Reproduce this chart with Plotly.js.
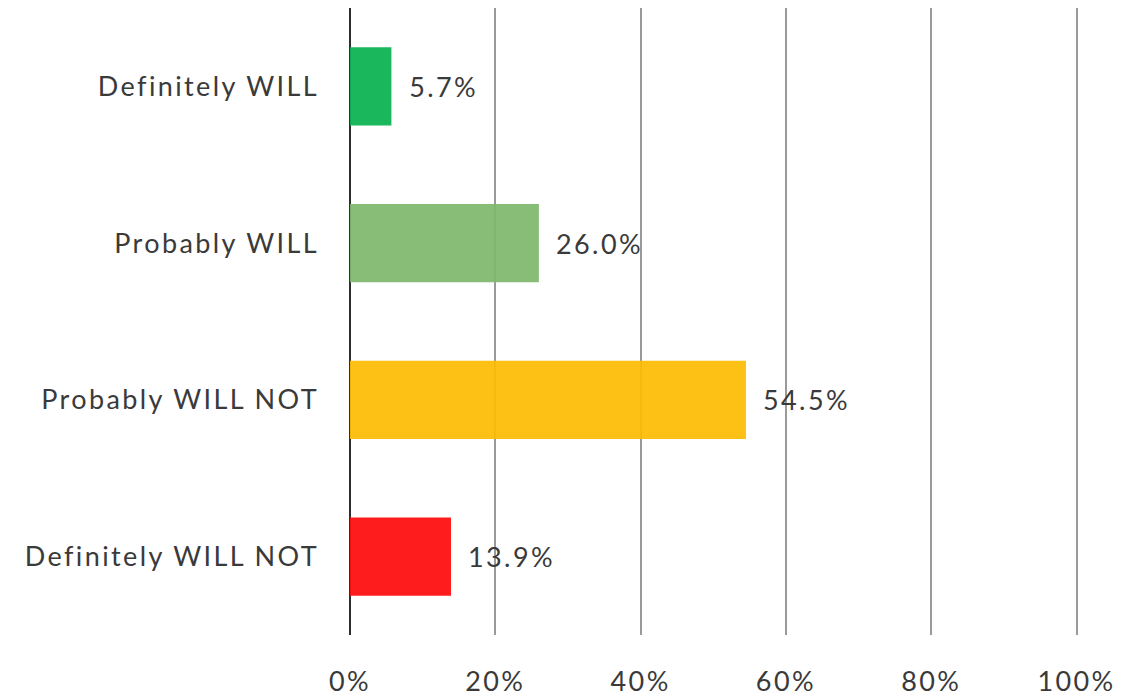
<!DOCTYPE html>
<html><head><meta charset="utf-8">
<script src="https://cdn.plot.ly/plotly-3.0.1.min.js"></script>
<style>
html,body{margin:0;padding:0;background:#fff}
#chart .ytick text, #chart .xtick text, #chart .annotation-text {letter-spacing: 2.4px;}
</style>
</head><body><div id="chart" style="width:1123px;height:698px"></div>
<script>
const categories = ["Definitely WILL", "Probably WILL", "Probably WILL NOT", "Definitely WILL NOT"];
const values = [5.7, 26.0, 54.5, 13.9];
const colors = ["#0ab150", "#7fb86e", "#fdbc04", "#fe0b0b"];
const tickValues = [0, 20, 40, 60, 80, 100];
const tickLabels = ["0%", "20%", "40%", "60%", "80%", "100%"];

const font = {family: "Lato, 'Open Sans', sans-serif", color: "#3a3a3a"};
const trace = {
  type: "bar", orientation: "h",
  y: categories, x: values,
  marker: {color: colors, opacity: 0.93},
  width: 0.5, hoverinfo: "none"
};
const annotations = categories.map((c, i) => ({
  x: values[i], y: c, xref: "x", yref: "y",
  text: values[i].toFixed(1) + "%", showarrow: false,
  xanchor: "left", yanchor: "middle", xshift: 21,
  font: Object.assign({}, font, {size: 27})
}));
const layout = {
  width: 1123, height: 698,
  margin: {l: 350, r: 44.5, t: 7.5, b: 62.5, pad: 0},
  paper_bgcolor: "#fff", plot_bgcolor: "#fff",
  showlegend: false,
  font: font,
  xaxis: {
    range: [0, 100.2], tickvals: tickValues, ticktext: tickLabels,
    showgrid: true, gridcolor: "#9a9a9a", gridwidth: 2,
    zeroline: true, zerolinecolor: "#2e2e2e", zerolinewidth: 2,
    showline: false, ticks: "", ticklabelstandoff: 28,
    tickfont: Object.assign({}, font, {size: 27}), fixedrange: true
  },
  yaxis: {
    autorange: false, range: [3.5, -0.5],
    showgrid: false, zeroline: false, showline: false, ticks: "",
    ticklabelstandoff: 30,
    tickfont: Object.assign({}, font, {size: 27}), fixedrange: true
  },
  annotations: annotations
};
Plotly.newPlot("chart", [trace], layout, {displayModeBar: false, staticPlot: true});
</script></body></html>
